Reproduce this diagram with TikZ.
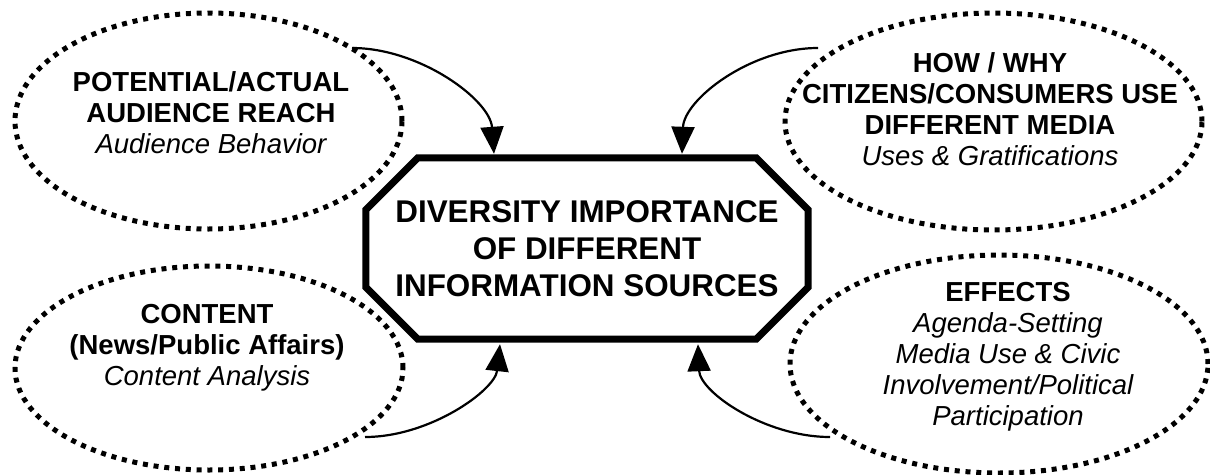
\documentclass[tikz,border=0pt]{standalone}
\usepackage{fontspec}
\setmainfont{Liberation Sans}
\usetikzlibrary{arrows.meta,shapes.geometric,calc}
\begin{document}
\begin{tikzpicture}[x=1pt,y=-1pt,
  dotell/.style={draw, ellipse, line width=5pt, dash pattern=on 5pt off 5.8pt, inner sep=0pt},
  lbl/.style={align=center, inner sep=0pt, font=\fontsize{27.5}{31}\selectfont},
  hubtext/.style={align=center, inner sep=0pt, font=\fontsize{31.4}{37}\selectfont\bfseries},
  octa/.style={line width=7pt, line join=miter},
  flow/.style={line width=2.2pt, -{Triangle[length=27pt,width=23pt]}}]
\useasboundingbox[fill=white] (0,0) rectangle (1210,474);

% ellipses
\node[dotell, minimum width=387pt, minimum height=216pt] (tl) at (208.5,121) {};
\node[dotell, minimum width=417pt, minimum height=217pt] (tr) at (993.5,121.5) {};
\node[dotell, minimum width=388pt, minimum height=204pt] (bl) at (209,368) {};
\node[dotell, minimum width=418pt, minimum height=218pt] (br) at (999,364) {};

% ellipse texts
\node[lbl] (tltext) at (211,113) {\bfseries POTENTIAL/ACTUAL\\\bfseries AUDIENCE REACH\\\itshape Audience Behavior};
\node[lbl] (trtext) at (990,109) {\bfseries HOW / WHY\\\bfseries CITIZENS/CONSUMERS USE\\\bfseries DIFFERENT MEDIA\\\itshape Uses \& Gratifications};
\node[lbl] (bltext) at (207,348) {\bfseries CONTENT\\\bfseries (News/Public Affairs)\\\itshape Content Analysis};
\node[lbl] (brtext) at (1008,357) {\bfseries EFFECTS\\\itshape Agenda-Setting\\\itshape Media Use \& Civic\\\itshape Involvement/Political\\\itshape Participation};

% central octagon
\node[hubtext, minimum width=442pt, minimum height=181pt] (hub) at (587,248.5)
  {DIVERSITY IMPORTANCE\\OF DIFFERENT\\INFORMATION SOURCES};
\draw[octa] ($(hub.north west)+(52,0)$) -- ($(hub.north east)+(-52,0)$)
  -- ($(hub.north east)+(0,52)$) -- ($(hub.south east)+(0,-52)$)
  -- ($(hub.south east)+(-52,0)$) -- ($(hub.south west)+(52,0)$)
  -- ($(hub.south west)+(0,-52)$) -- ($(hub.north west)+(0,52)$) -- cycle;

% connector ends
\coordinate (s1) at (352,48);
\coordinate (s2) at (818,48);
\coordinate (s3) at (365,437);
\coordinate (s4) at (830,437);
\coordinate (e1) at ($(hub.north)+(-93,-4)$);
\coordinate (e2) at ($(hub.north)+(95,-4)$);
\coordinate (e3) at ($(hub.south)+(-87,5)$);
\coordinate (e4) at ($(hub.south)+(111,5)$);

\draw[flow] (s1) .. controls +(68,0) and +(-4,-54) .. (e1);
\draw[flow] (s2) .. controls +(-68,0) and +(2,-54) .. (e2);
\draw[flow] (s3) .. controls +(65,0) and +(-5,46) .. (e3);
\draw[flow] (s4) .. controls +(-65,0) and +(2,48) .. (e4);
\end{tikzpicture}
\end{document}
